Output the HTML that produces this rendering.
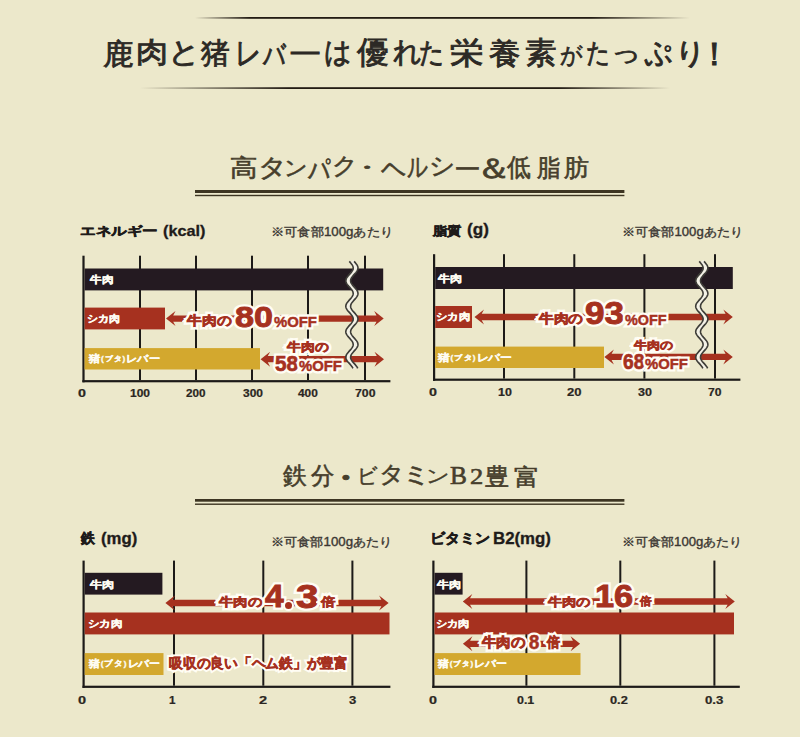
<!DOCTYPE html>
<html><head><meta charset="utf-8"><style>
html,body{margin:0;padding:0}
body{width:800px;height:737px;overflow:hidden;position:relative;background:#ece8cb}
svg{position:absolute;left:0;top:0}
.t{position:absolute;line-height:1;white-space:nowrap;transform-origin:0 0}
.o{-webkit-text-stroke:4px #fffdf4;paint-order:stroke fill}
</style></head><body>
<svg width="800" height="737" viewBox="0 0 800 737"><defs>
<linearGradient id="g1" x1="195" x2="690" y1="0" y2="0" gradientUnits="userSpaceOnUse">
<stop offset="0" stop-color="#231c14" stop-opacity="0"/><stop offset="0.11" stop-color="#231c14" stop-opacity="1"/>
<stop offset="0.8" stop-color="#231c14" stop-opacity="1"/><stop offset="1" stop-color="#231c14" stop-opacity="0"/></linearGradient>
<linearGradient id="g2" x1="140" x2="670" y1="0" y2="0" gradientUnits="userSpaceOnUse">
<stop offset="0" stop-color="#231c14" stop-opacity="0"/><stop offset="0.28" stop-color="#231c14" stop-opacity="1"/>
<stop offset="0.79" stop-color="#231c14" stop-opacity="1"/><stop offset="1" stop-color="#231c14" stop-opacity="0"/></linearGradient>
</defs><rect x="195" y="499" width="429.4" height="2.7" fill="#3d3522"/><rect x="195" y="503.5" width="429.4" height="1.4" fill="#3d3522"/><rect x="195" y="190" width="429.4" height="3" fill="#3d3522"/><rect x="195" y="194.8" width="429.4" height="1.4" fill="#3d3522"/><rect x="140" y="87.2" width="530" height="1.8" fill="url(#g2)"/><rect x="195" y="17" width="495" height="1.8" fill="url(#g1)"/><rect x="139" y="255.7" width="2" height="124.4" fill="#1c1a18"/><rect x="195" y="255.7" width="2" height="124.4" fill="#1c1a18"/><rect x="251" y="255.7" width="2" height="124.4" fill="#1c1a18"/><rect x="307" y="255.7" width="2" height="124.4" fill="#1c1a18"/><rect x="364" y="255.7" width="2" height="124.4" fill="#1c1a18"/><rect x="82.4" y="255.7" width="2.2" height="126.6" fill="#1c1a18"/><rect x="82.4" y="380.1" width="308" height="2.2" fill="#1c1a18"/><rect x="84.6" y="268.5" width="298.6" height="21.9" fill="#241a21"/><rect x="84.6" y="307.6" width="80.4" height="21.8" fill="#a6311f"/><rect x="84.6" y="348.1" width="175.4" height="21.4" fill="#d3a82e"/><rect x="503" y="254.2" width="2" height="124.4" fill="#1c1a18"/><rect x="573.3" y="254.2" width="2" height="124.4" fill="#1c1a18"/><rect x="643.4" y="254.2" width="2" height="124.4" fill="#1c1a18"/><rect x="714" y="254.2" width="2" height="124.4" fill="#1c1a18"/><rect x="433" y="254.2" width="2.2" height="126.6" fill="#1c1a18"/><rect x="433" y="378.6" width="307.4" height="2.2" fill="#1c1a18"/><rect x="435.2" y="267" width="297.6" height="22" fill="#241a21"/><rect x="435.2" y="306" width="36.8" height="22" fill="#a6311f"/><rect x="435.2" y="346.6" width="168.8" height="21.4" fill="#d3a82e"/><rect x="173" y="560.6" width="2" height="125.1" fill="#1c1a18"/><rect x="262.3" y="560.6" width="2" height="125.1" fill="#1c1a18"/><rect x="351.4" y="560.6" width="2" height="125.1" fill="#1c1a18"/><rect x="82.5" y="560.6" width="2.2" height="127.3" fill="#1c1a18"/><rect x="82.5" y="685.7" width="307.9" height="2.2" fill="#1c1a18"/><rect x="84.7" y="572.8" width="77.7" height="21.8" fill="#241a21"/><rect x="84.7" y="612.5" width="304.8" height="21.9" fill="#a6311f"/><rect x="84.7" y="653.1" width="78.8" height="21.9" fill="#d3a82e"/><rect x="525.4" y="560.6" width="2" height="125.1" fill="#1c1a18"/><rect x="619.3" y="560.6" width="2" height="125.1" fill="#1c1a18"/><rect x="713.4" y="560.6" width="2" height="125.1" fill="#1c1a18"/><rect x="432.3" y="560.6" width="2.2" height="127.3" fill="#1c1a18"/><rect x="432.3" y="685.7" width="307.5" height="2.2" fill="#1c1a18"/><rect x="434.5" y="572.8" width="28.1" height="21.8" fill="#241a21"/><rect x="434.5" y="612.5" width="299.5" height="21.9" fill="#a6311f"/><rect x="434.5" y="653.1" width="146" height="21.9" fill="#d3a82e"/><polygon fill="#a6311f" points="166,318.6 175.5,311.1 173.2,315.45 376.5,315.45 374.2,311.1 383.7,318.6 374.2,326.1 376.5,321.75 173.2,321.75 175.5,326.1"/><polygon fill="#a6311f" points="260.6,359.2 270.1,351.7 267.8,356.05 376.8,356.05 374.5,351.7 384,359.2 374.5,366.7 376.8,362.35 267.8,362.35 270.1,366.7"/><polygon fill="#a6311f" points="474.5,317 484,309.5 481.7,313.85 725.6,313.85 723.3,309.5 732.8,317 723.3,324.5 725.6,320.15 481.7,320.15 484,324.5"/><polygon fill="#a6311f" points="604.4,356.9 613.9,349.4 611.6,353.75 725.6,353.75 723.3,349.4 732.8,356.9 723.3,364.4 725.6,360.05 611.6,360.05 613.9,364.4"/><polygon fill="#a6311f" points="165.4,603 174.9,595.5 172.6,599.85 381.4,599.85 379.1,595.5 388.6,603 379.1,610.5 381.4,606.15 172.6,606.15 174.9,610.5"/><polygon fill="#a6311f" points="462.8,601.5 472.3,594 470,598.35 727.6,598.35 725.3,594 734.8,601.5 725.3,609 727.6,604.65 470,604.65 472.3,609"/><polygon fill="#a6311f" points="462.9,643.8 472.4,636.3 470.1,640.65 572.9,640.65 570.6,636.3 580.1,643.8 570.6,651.3 572.9,646.95 470.1,646.95 472.4,651.3"/><path d="M351.69,261.4 L352.6,262.4 L353.47,263.4 L354.24,264.4 L354.87,265.4 L355.32,266.4 L355.56,267.4 L355.58,268.4 L355.38,269.4 L354.97,270.4 L354.38,271.4 L353.63,272.4 L352.78,273.4 L351.88,274.4 L350.98,275.4 L350.13,276.4 L349.39,277.4 L348.8,278.4 L348.4,279.4 L348.21,280.4 L348.25,281.4 L348.5,282.4 L348.96,283.4 L349.6,284.4 L350.37,285.4 L351.24,286.4 L352.15,287.4 L353.04,288.4 L353.87,289.4 L354.57,290.4 L355.12,291.4 L355.46,292.4 L355.6,293.4 L355.51,294.4 L355.2,295.4 L354.69,296.4 L354.02,297.4 L353.22,298.4 L352.33,299.4 L351.42,300.4 L350.54,301.4 L349.74,302.4 L349.08,303.4 L348.58,304.4 L348.28,305.4 L348.2,306.4 L348.35,307.4 L348.71,308.4 L349.26,309.4 L349.97,310.4 L350.8,311.4 L351.69,312.4 L352.6,313.4 L353.47,314.4 L354.24,315.4 L354.87,316.4 L355.32,317.4 L355.56,318.4 L355.58,319.4 L355.38,320.4 L354.97,321.4 L354.38,322.4 L353.63,323.4 L352.78,324.4 L351.88,325.4 L350.98,326.4 L350.13,327.4 L349.39,328.4 L348.8,329.4 L348.4,330.4 L348.21,331.4 L348.25,332.4 L348.5,333.4 L348.96,334.4 L349.6,335.4 L350.37,336.4 L351.24,337.4 L352.15,338.4 L353.04,339.4 L353.87,340.4 L354.57,341.4 L355.12,342.4 L355.46,343.4 L355.6,344.4 L355.51,345.4 L355.2,346.4 L354.69,347.4 L354.02,348.4 L353.22,349.4 L352.33,350.4 L351.42,351.4 L350.54,352.4 L349.74,353.4 L349.08,354.4 L348.58,355.4 L348.28,356.4 L348.2,357.4 L348.35,358.4 L348.71,359.4 L349.26,360.4 L349.97,361.4 L350.8,362.4 L351.69,363.4 L352.6,364.4 L353.47,365.4 L354.24,366.4 L354.87,367.4 L355.32,368.4" stroke="#f3f1e6" stroke-width="4" fill="none"/><path d="M349.29,261.4 L350.2,262.4 L351.07,263.4 L351.84,264.4 L352.47,265.4 L352.92,266.4 L353.16,267.4 L353.18,268.4 L352.98,269.4 L352.57,270.4 L351.98,271.4 L351.23,272.4 L350.38,273.4 L349.48,274.4 L348.58,275.4 L347.73,276.4 L346.99,277.4 L346.4,278.4 L346,279.4 L345.81,280.4 L345.85,281.4 L346.1,282.4 L346.56,283.4 L347.2,284.4 L347.97,285.4 L348.84,286.4 L349.75,287.4 L350.64,288.4 L351.47,289.4 L352.17,290.4 L352.72,291.4 L353.06,292.4 L353.2,293.4 L353.11,294.4 L352.8,295.4 L352.29,296.4 L351.62,297.4 L350.82,298.4 L349.93,299.4 L349.02,300.4 L348.14,301.4 L347.34,302.4 L346.68,303.4 L346.18,304.4 L345.88,305.4 L345.8,306.4 L345.95,307.4 L346.31,308.4 L346.86,309.4 L347.57,310.4 L348.4,311.4 L349.29,312.4 L350.2,313.4 L351.07,314.4 L351.84,315.4 L352.47,316.4 L352.92,317.4 L353.16,318.4 L353.18,319.4 L352.98,320.4 L352.57,321.4 L351.98,322.4 L351.23,323.4 L350.38,324.4 L349.48,325.4 L348.58,326.4 L347.73,327.4 L346.99,328.4 L346.4,329.4 L346,330.4 L345.81,331.4 L345.85,332.4 L346.1,333.4 L346.56,334.4 L347.2,335.4 L347.97,336.4 L348.84,337.4 L349.75,338.4 L350.64,339.4 L351.47,340.4 L352.17,341.4 L352.72,342.4 L353.06,343.4 L353.2,344.4 L353.11,345.4 L352.8,346.4 L352.29,347.4 L351.62,348.4 L350.82,349.4 L349.93,350.4 L349.02,351.4 L348.14,352.4 L347.34,353.4 L346.68,354.4 L346.18,355.4 L345.88,356.4 L345.8,357.4 L345.95,358.4 L346.31,359.4 L346.86,360.4 L347.57,361.4 L348.4,362.4 L349.29,363.4 L350.2,364.4 L351.07,365.4 L351.84,366.4 L352.47,367.4 L352.92,368.4" stroke="#3e3d38" stroke-width="1.6" fill="none"/><path d="M354.09,261.4 L355,262.4 L355.87,263.4 L356.64,264.4 L357.27,265.4 L357.72,266.4 L357.96,267.4 L357.98,268.4 L357.78,269.4 L357.37,270.4 L356.78,271.4 L356.03,272.4 L355.18,273.4 L354.28,274.4 L353.38,275.4 L352.53,276.4 L351.79,277.4 L351.2,278.4 L350.8,279.4 L350.61,280.4 L350.65,281.4 L350.9,282.4 L351.36,283.4 L352,284.4 L352.77,285.4 L353.64,286.4 L354.55,287.4 L355.44,288.4 L356.27,289.4 L356.97,290.4 L357.52,291.4 L357.86,292.4 L358,293.4 L357.91,294.4 L357.6,295.4 L357.09,296.4 L356.42,297.4 L355.62,298.4 L354.73,299.4 L353.82,300.4 L352.94,301.4 L352.14,302.4 L351.48,303.4 L350.98,304.4 L350.68,305.4 L350.6,306.4 L350.75,307.4 L351.11,308.4 L351.66,309.4 L352.37,310.4 L353.2,311.4 L354.09,312.4 L355,313.4 L355.87,314.4 L356.64,315.4 L357.27,316.4 L357.72,317.4 L357.96,318.4 L357.98,319.4 L357.78,320.4 L357.37,321.4 L356.78,322.4 L356.03,323.4 L355.18,324.4 L354.28,325.4 L353.38,326.4 L352.53,327.4 L351.79,328.4 L351.2,329.4 L350.8,330.4 L350.61,331.4 L350.65,332.4 L350.9,333.4 L351.36,334.4 L352,335.4 L352.77,336.4 L353.64,337.4 L354.55,338.4 L355.44,339.4 L356.27,340.4 L356.97,341.4 L357.52,342.4 L357.86,343.4 L358,344.4 L357.91,345.4 L357.6,346.4 L357.09,347.4 L356.42,348.4 L355.62,349.4 L354.73,350.4 L353.82,351.4 L352.94,352.4 L352.14,353.4 L351.48,354.4 L350.98,355.4 L350.68,356.4 L350.6,357.4 L350.75,358.4 L351.11,359.4 L351.66,360.4 L352.37,361.4 L353.2,362.4 L354.09,363.4 L355,364.4 L355.87,365.4 L356.64,366.4 L357.27,367.4 L357.72,368.4" stroke="#3e3d38" stroke-width="1.6" fill="none"/><path d="M701.59,261.4 L702.5,262.4 L703.37,263.4 L704.14,264.4 L704.77,265.4 L705.22,266.4 L705.46,267.4 L705.48,268.4 L705.28,269.4 L704.87,270.4 L704.28,271.4 L703.53,272.4 L702.68,273.4 L701.78,274.4 L700.88,275.4 L700.03,276.4 L699.29,277.4 L698.7,278.4 L698.3,279.4 L698.11,280.4 L698.15,281.4 L698.4,282.4 L698.86,283.4 L699.5,284.4 L700.27,285.4 L701.14,286.4 L702.05,287.4 L702.94,288.4 L703.77,289.4 L704.47,290.4 L705.02,291.4 L705.36,292.4 L705.5,293.4 L705.41,294.4 L705.1,295.4 L704.59,296.4 L703.92,297.4 L703.12,298.4 L702.23,299.4 L701.32,300.4 L700.44,301.4 L699.64,302.4 L698.98,303.4 L698.48,304.4 L698.18,305.4 L698.1,306.4 L698.25,307.4 L698.61,308.4 L699.16,309.4 L699.87,310.4 L700.7,311.4 L701.59,312.4 L702.5,313.4 L703.37,314.4 L704.14,315.4 L704.77,316.4 L705.22,317.4 L705.46,318.4 L705.48,319.4 L705.28,320.4 L704.87,321.4 L704.28,322.4 L703.53,323.4 L702.68,324.4 L701.78,325.4 L700.88,326.4 L700.03,327.4 L699.29,328.4 L698.7,329.4 L698.3,330.4 L698.11,331.4 L698.15,332.4 L698.4,333.4 L698.86,334.4 L699.5,335.4 L700.27,336.4 L701.14,337.4 L702.05,338.4 L702.94,339.4 L703.77,340.4 L704.47,341.4 L705.02,342.4 L705.36,343.4 L705.5,344.4 L705.41,345.4 L705.1,346.4 L704.59,347.4 L703.92,348.4 L703.12,349.4 L702.23,350.4 L701.32,351.4 L700.44,352.4 L699.64,353.4 L698.98,354.4 L698.48,355.4 L698.18,356.4 L698.1,357.4 L698.25,358.4 L698.61,359.4 L699.16,360.4 L699.87,361.4 L700.7,362.4 L701.59,363.4 L702.5,364.4 L703.37,365.4 L704.14,366.4 L704.77,367.4 L705.22,368.4" stroke="#f3f1e6" stroke-width="4" fill="none"/><path d="M699.19,261.4 L700.1,262.4 L700.97,263.4 L701.74,264.4 L702.37,265.4 L702.82,266.4 L703.06,267.4 L703.08,268.4 L702.88,269.4 L702.47,270.4 L701.88,271.4 L701.13,272.4 L700.28,273.4 L699.38,274.4 L698.48,275.4 L697.63,276.4 L696.89,277.4 L696.3,278.4 L695.9,279.4 L695.71,280.4 L695.75,281.4 L696,282.4 L696.46,283.4 L697.1,284.4 L697.87,285.4 L698.74,286.4 L699.65,287.4 L700.54,288.4 L701.37,289.4 L702.07,290.4 L702.62,291.4 L702.96,292.4 L703.1,293.4 L703.01,294.4 L702.7,295.4 L702.19,296.4 L701.52,297.4 L700.72,298.4 L699.83,299.4 L698.92,300.4 L698.04,301.4 L697.24,302.4 L696.58,303.4 L696.08,304.4 L695.78,305.4 L695.7,306.4 L695.85,307.4 L696.21,308.4 L696.76,309.4 L697.47,310.4 L698.3,311.4 L699.19,312.4 L700.1,313.4 L700.97,314.4 L701.74,315.4 L702.37,316.4 L702.82,317.4 L703.06,318.4 L703.08,319.4 L702.88,320.4 L702.47,321.4 L701.88,322.4 L701.13,323.4 L700.28,324.4 L699.38,325.4 L698.48,326.4 L697.63,327.4 L696.89,328.4 L696.3,329.4 L695.9,330.4 L695.71,331.4 L695.75,332.4 L696,333.4 L696.46,334.4 L697.1,335.4 L697.87,336.4 L698.74,337.4 L699.65,338.4 L700.54,339.4 L701.37,340.4 L702.07,341.4 L702.62,342.4 L702.96,343.4 L703.1,344.4 L703.01,345.4 L702.7,346.4 L702.19,347.4 L701.52,348.4 L700.72,349.4 L699.83,350.4 L698.92,351.4 L698.04,352.4 L697.24,353.4 L696.58,354.4 L696.08,355.4 L695.78,356.4 L695.7,357.4 L695.85,358.4 L696.21,359.4 L696.76,360.4 L697.47,361.4 L698.3,362.4 L699.19,363.4 L700.1,364.4 L700.97,365.4 L701.74,366.4 L702.37,367.4 L702.82,368.4" stroke="#3e3d38" stroke-width="1.6" fill="none"/><path d="M703.99,261.4 L704.9,262.4 L705.77,263.4 L706.54,264.4 L707.17,265.4 L707.62,266.4 L707.86,267.4 L707.88,268.4 L707.68,269.4 L707.27,270.4 L706.68,271.4 L705.93,272.4 L705.08,273.4 L704.18,274.4 L703.28,275.4 L702.43,276.4 L701.69,277.4 L701.1,278.4 L700.7,279.4 L700.51,280.4 L700.55,281.4 L700.8,282.4 L701.26,283.4 L701.9,284.4 L702.67,285.4 L703.54,286.4 L704.45,287.4 L705.34,288.4 L706.17,289.4 L706.87,290.4 L707.42,291.4 L707.76,292.4 L707.9,293.4 L707.81,294.4 L707.5,295.4 L706.99,296.4 L706.32,297.4 L705.52,298.4 L704.63,299.4 L703.72,300.4 L702.84,301.4 L702.04,302.4 L701.38,303.4 L700.88,304.4 L700.58,305.4 L700.5,306.4 L700.65,307.4 L701.01,308.4 L701.56,309.4 L702.27,310.4 L703.1,311.4 L703.99,312.4 L704.9,313.4 L705.77,314.4 L706.54,315.4 L707.17,316.4 L707.62,317.4 L707.86,318.4 L707.88,319.4 L707.68,320.4 L707.27,321.4 L706.68,322.4 L705.93,323.4 L705.08,324.4 L704.18,325.4 L703.28,326.4 L702.43,327.4 L701.69,328.4 L701.1,329.4 L700.7,330.4 L700.51,331.4 L700.55,332.4 L700.8,333.4 L701.26,334.4 L701.9,335.4 L702.67,336.4 L703.54,337.4 L704.45,338.4 L705.34,339.4 L706.17,340.4 L706.87,341.4 L707.42,342.4 L707.76,343.4 L707.9,344.4 L707.81,345.4 L707.5,346.4 L706.99,347.4 L706.32,348.4 L705.52,349.4 L704.63,350.4 L703.72,351.4 L702.84,352.4 L702.04,353.4 L701.38,354.4 L700.88,355.4 L700.58,356.4 L700.5,357.4 L700.65,358.4 L701.01,359.4 L701.56,360.4 L702.27,361.4 L703.1,362.4 L703.99,363.4 L704.9,364.4 L705.77,365.4 L706.54,366.4 L707.17,367.4 L707.62,368.4" stroke="#3e3d38" stroke-width="1.6" fill="none"/></svg>
<div class="t" style="left:103px;top:39.87px;font-size:29px;font-family:'Liberation Serif', serif;font-weight:normal;transform:scaleX(1.045);color:#2c2925;-webkit-text-stroke:0.03em #2c2925">鹿</div><div class="t" style="left:136.05px;top:38.41px;font-size:29.47px;font-family:'Liberation Serif', serif;font-weight:normal;transform:scaleX(1.105);color:#2c2925;-webkit-text-stroke:0.03em #2c2925">肉</div><div class="t" style="left:167.83px;top:38.47px;font-size:29.41px;font-family:'Liberation Serif', serif;font-weight:normal;transform:scaleX(1.098);color:#2c2925;-webkit-text-stroke:0.03em #2c2925">と</div><div class="t" style="left:200.58px;top:39.29px;font-size:29.29px;font-family:'Liberation Serif', serif;font-weight:normal;transform:scaleX(0.990);color:#2c2925;-webkit-text-stroke:0.03em #2c2925">猪</div><div class="t" style="left:234.67px;top:37.58px;font-size:31.58px;font-family:'Liberation Serif', serif;font-weight:normal;transform:scaleX(0.812);color:#2c2925;-webkit-text-stroke:0.03em #2c2925">レ</div><div class="t" style="left:262.67px;top:41.32px;font-size:29.73px;font-family:'Liberation Serif', serif;font-weight:normal;transform:scaleX(0.747);color:#2c2925;-webkit-text-stroke:0.03em #2c2925">バ</div><div class="t" style="left:287.56px;top:43.86px;font-size:21.43px;font-family:'Liberation Serif', serif;font-weight:normal;transform:scaleX(1.628);color:#2c2925;-webkit-text-stroke:0.03em #2c2925">ー</div><div class="t" style="left:324.36px;top:37.79px;font-size:29.21px;font-family:'Liberation Serif', serif;font-weight:normal;transform:scaleX(0.934);color:#2c2925;-webkit-text-stroke:0.03em #2c2925">は</div><div class="t" style="left:356.64px;top:37.38px;font-size:31.25px;font-family:'Liberation Serif', serif;font-weight:normal;transform:scaleX(1.024);color:#2c2925;-webkit-text-stroke:0.03em #2c2925">優</div><div class="t" style="left:392.72px;top:39px;font-size:28.57px;font-family:'Liberation Serif', serif;font-weight:normal;transform:scaleX(0.964);color:#2c2925;-webkit-text-stroke:0.03em #2c2925">れ</div><div class="t" style="left:419px;top:39.02px;font-size:28.26px;font-family:'Liberation Serif', serif;font-weight:normal;transform:scaleX(0.885);color:#2c2925;-webkit-text-stroke:0.03em #2c2925">た</div><div class="t" style="left:450.33px;top:38.3px;font-size:30px;font-family:'Liberation Serif', serif;font-weight:normal;transform:scaleX(1.111);color:#2c2925;-webkit-text-stroke:0.03em #2c2925">栄</div><div class="t" style="left:489px;top:38.61px;font-size:30.3px;font-family:'Liberation Serif', serif;font-weight:normal;transform:scaleX(1.044);color:#2c2925;-webkit-text-stroke:0.03em #2c2925">養</div><div class="t" style="left:525.38px;top:38.59px;font-size:29.7px;font-family:'Liberation Serif', serif;font-weight:normal;transform:scaleX(1.052);color:#2c2925;-webkit-text-stroke:0.03em #2c2925">素</div><div class="t" style="left:559.77px;top:43.83px;font-size:23.4px;font-family:'Liberation Serif', serif;font-weight:normal;transform:scaleX(0.963);color:#2c2925;-webkit-text-stroke:0.03em #2c2925">が</div><div class="t" style="left:586.05px;top:40.1px;font-size:27.17px;font-family:'Liberation Serif', serif;font-weight:normal;transform:scaleX(0.878);color:#2c2925;-webkit-text-stroke:0.03em #2c2925">た</div><div class="t" style="left:611.48px;top:41.55px;font-size:23.64px;font-family:'Liberation Serif', serif;font-weight:normal;transform:scaleX(1.241);color:#2c2925;-webkit-text-stroke:0.03em #2c2925">っ</div><div class="t" style="left:643.71px;top:38.04px;font-size:30.49px;font-family:'Liberation Serif', serif;font-weight:normal;transform:scaleX(0.937);color:#2c2925;-webkit-text-stroke:0.03em #2c2925">ぷ</div><div class="t" style="left:674.93px;top:38.68px;font-size:29.03px;font-family:'Liberation Serif', serif;font-weight:normal;transform:scaleX(1.046);color:#2c2925;-webkit-text-stroke:0.03em #2c2925">り</div><div class="t" style="left:698px;top:37.79px;font-size:32.39px;font-family:'Liberation Serif', serif;font-weight:normal;transform:scaleX(1.029);color:#2c2925;-webkit-text-stroke:0.03em #2c2925">！</div><div class="t" style="left:230.18px;top:156.95px;font-size:23.76px;font-family:'Liberation Serif', serif;font-weight:normal;transform:scaleX(1.144);color:#463e2c;-webkit-text-stroke:0.025em #463e2c">高</div><div class="t" style="left:258.16px;top:155.25px;font-size:25px;font-family:'Liberation Serif', serif;font-weight:normal;transform:scaleX(1.135);color:#463e2c;-webkit-text-stroke:0.025em #463e2c">タ</div><div class="t" style="left:283.71px;top:158.09px;font-size:20.78px;font-family:'Liberation Serif', serif;font-weight:normal;transform:scaleX(1.102);color:#463e2c;-webkit-text-stroke:0.025em #463e2c">ン</div><div class="t" style="left:307.66px;top:155.51px;font-size:27.7px;font-family:'Liberation Serif', serif;font-weight:normal;transform:scaleX(0.791);color:#463e2c;-webkit-text-stroke:0.025em #463e2c">パ</div><div class="t" style="left:332px;top:155.09px;font-size:23.89px;font-family:'Liberation Serif', serif;font-weight:normal;transform:scaleX(1.047);color:#463e2c;-webkit-text-stroke:0.025em #463e2c">ク</div><div class="t" style="left:350px;top:159.23px;font-size:18.89px;font-family:'Liberation Serif', serif;font-weight:normal;transform:scaleX(1.765);color:#463e2c;-webkit-text-stroke:0.025em #463e2c">・</div><div class="t" style="left:381.25px;top:155.84px;font-size:26.53px;font-family:'Liberation Serif', serif;font-weight:normal;transform:scaleX(0.923);color:#463e2c;-webkit-text-stroke:0.025em #463e2c">ヘ</div><div class="t" style="left:406.8px;top:153.95px;font-size:26.97px;font-family:'Liberation Serif', serif;font-weight:normal;transform:scaleX(0.760);color:#463e2c;-webkit-text-stroke:0.025em #463e2c">ル</div><div class="t" style="left:428.72px;top:154.91px;font-size:23.75px;font-family:'Liberation Serif', serif;font-weight:normal;transform:scaleX(1.065);color:#463e2c;-webkit-text-stroke:0.025em #463e2c">シ</div><div class="t" style="left:453.85px;top:158.8px;font-size:20px;font-family:'Liberation Serif', serif;font-weight:normal;transform:scaleX(1.345);color:#463e2c;-webkit-text-stroke:0.025em #463e2c">ー</div><div class="t" style="left:475.9px;top:154.63px;font-size:28.08px;font-family:'Liberation Serif', serif;font-weight:normal;transform:scaleX(1.264);color:#463e2c;-webkit-text-stroke:0.025em #463e2c">＆</div><div class="t" style="left:507.48px;top:155.24px;font-size:25.26px;font-family:'Liberation Serif', serif;font-weight:normal;transform:scaleX(0.950);color:#463e2c;-webkit-text-stroke:0.025em #463e2c">低</div><div class="t" style="left:537.24px;top:156px;font-size:24.49px;font-family:'Liberation Serif', serif;font-weight:normal;transform:scaleX(0.983);color:#463e2c;-webkit-text-stroke:0.025em #463e2c">脂</div><div class="t" style="left:564.25px;top:156.24px;font-size:24.24px;font-family:'Liberation Serif', serif;font-weight:normal;transform:scaleX(1.042);color:#463e2c;-webkit-text-stroke:0.025em #463e2c">肪</div><div class="t" style="left:283.24px;top:464.76px;font-size:23.7px;font-family:'Liberation Serif', serif;font-weight:normal;transform:scaleX(0.992);color:#463e2c;-webkit-text-stroke:0.025em #463e2c">鉄</div><div class="t" style="left:311.23px;top:464.76px;font-size:23.7px;font-family:'Liberation Serif', serif;font-weight:normal;transform:scaleX(0.963);color:#463e2c;-webkit-text-stroke:0.025em #463e2c">分</div><div class="t" style="left:325.67px;top:462.9px;font-size:30px;font-family:'Liberation Serif', serif;font-weight:normal;transform:scaleX(1.296);color:#463e2c;-webkit-text-stroke:0.025em #463e2c">・</div><div class="t" style="left:357.05px;top:466.32px;font-size:21.39px;font-family:'Liberation Serif', serif;font-weight:normal;transform:scaleX(0.960);color:#463e2c;-webkit-text-stroke:0.025em #463e2c">ビ</div><div class="t" style="left:379.28px;top:464.4px;font-size:22.83px;font-family:'Liberation Serif', serif;font-weight:normal;transform:scaleX(1.080);color:#463e2c;-webkit-text-stroke:0.025em #463e2c">タ</div><div class="t" style="left:402.32px;top:463.66px;font-size:23.77px;font-family:'Liberation Serif', serif;font-weight:normal;transform:scaleX(1.183);color:#463e2c;-webkit-text-stroke:0.025em #463e2c">ミ</div><div class="t" style="left:426.26px;top:467.45px;font-size:18.18px;font-family:'Liberation Serif', serif;font-weight:normal;transform:scaleX(1.286);color:#463e2c;-webkit-text-stroke:0.025em #463e2c">ン</div><div class="t" style="left:449.99px;top:464.38px;font-size:24.26px;font-family:'Liberation Serif', serif;font-weight:normal;transform:scaleX(1.047);color:#463e2c;-webkit-text-stroke:0.025em #463e2c">B</div><div class="t" style="left:469.8px;top:464.67px;font-size:23.91px;font-family:'Liberation Serif', serif;font-weight:normal;transform:scaleX(1.109);color:#463e2c;-webkit-text-stroke:0.025em #463e2c">2</div><div class="t" style="left:485.26px;top:465.24px;font-size:24.46px;font-family:'Liberation Serif', serif;font-weight:normal;color:#463e2c;-webkit-text-stroke:0.025em #463e2c">豊</div><div class="t" style="left:513.88px;top:465.7px;font-size:23.21px;font-family:'Liberation Serif', serif;font-weight:normal;transform:scaleX(1.119);color:#463e2c;-webkit-text-stroke:0.025em #463e2c">富</div><div class="t" style="left:271.27px;top:226.12px;font-size:12.04px;font-family:'Liberation Sans', sans-serif;font-weight:normal;transform:scaleX(1.103);color:#3b3733;-webkit-text-stroke:0.03em #3b3733">※可食部100gあたり</div><div class="t" style="left:622.29px;top:226.12px;font-size:12.04px;font-family:'Liberation Sans', sans-serif;font-weight:normal;transform:scaleX(1.093);color:#3b3733;-webkit-text-stroke:0.03em #3b3733">※可食部100gあたり</div><div class="t" style="left:271.27px;top:535.62px;font-size:12.13px;font-family:'Liberation Sans', sans-serif;font-weight:normal;transform:scaleX(1.094);color:#3b3733;-webkit-text-stroke:0.03em #3b3733">※可食部100gあたり</div><div class="t" style="left:622.29px;top:535.62px;font-size:12.13px;font-family:'Liberation Sans', sans-serif;font-weight:normal;transform:scaleX(1.085);color:#3b3733;-webkit-text-stroke:0.03em #3b3733">※可食部100gあたり</div><div class="t" style="left:79.79px;top:224.72px;font-size:11.73px;font-family:'Liberation Sans', sans-serif;font-weight:bold;transform:scaleX(1.295);color:#1e1b1a;-webkit-text-stroke:0.045em #1e1b1a">エネルギー</div><div class="t" style="left:162.95px;top:222.9px;font-size:15.42px;font-family:'Liberation Sans', sans-serif;font-weight:bold;transform:scaleX(1.055);color:#1e1b1a;-webkit-text-stroke:0.02em #1e1b1a">(kcal)</div><div class="t" style="left:432.91px;top:224.71px;font-size:12.14px;font-family:'Liberation Sans', sans-serif;font-weight:bold;transform:scaleX(1.186);color:#1e1b1a;-webkit-text-stroke:0.045em #1e1b1a">脂質</div><div class="t" style="left:467.11px;top:222.35px;font-size:15.94px;font-family:'Liberation Sans', sans-serif;font-weight:bold;transform:scaleX(1.077);color:#1e1b1a;-webkit-text-stroke:0.02em #1e1b1a">(g)</div><div class="t" style="left:80.71px;top:532.1px;font-size:13.73px;font-family:'Liberation Sans', sans-serif;font-weight:bold;transform:scaleX(0.987);color:#1e1b1a;-webkit-text-stroke:0.045em #1e1b1a">鉄</div><div class="t" style="left:100.73px;top:530.85px;font-size:15.94px;font-family:'Liberation Sans', sans-serif;font-weight:bold;transform:scaleX(1.051);color:#1e1b1a;-webkit-text-stroke:0.02em #1e1b1a">(mg)</div><div class="t" style="left:429.71px;top:532.46px;font-size:13.59px;font-family:'Liberation Sans', sans-serif;font-weight:bold;transform:scaleX(1.074);color:#1e1b1a;-webkit-text-stroke:0.045em #1e1b1a">ビタミン</div><div class="t" style="left:492.74px;top:531.18px;font-size:16.56px;font-family:'Liberation Sans', sans-serif;font-weight:bold;transform:scaleX(1.017);color:#1e1b1a;-webkit-text-stroke:0.02em #1e1b1a">B2(mg)</div><div class="t" style="left:78.47px;top:387.27px;font-size:11.64px;font-family:'Liberation Sans', sans-serif;font-weight:bold;transform:scaleX(1.227);color:#2a2622;-webkit-text-stroke:0.02em #2a2622">0</div><div class="t" style="left:130px;top:387.27px;font-size:11.64px;font-family:'Liberation Sans', sans-serif;font-weight:bold;transform:scaleX(1.032);color:#2a2622;-webkit-text-stroke:0.02em #2a2622">100</div><div class="t" style="left:186.17px;top:387.27px;font-size:11.64px;font-family:'Liberation Sans', sans-serif;font-weight:bold;transform:scaleX(1.007);color:#2a2622;-webkit-text-stroke:0.02em #2a2622">200</div><div class="t" style="left:242.63px;top:387.27px;font-size:11.64px;font-family:'Liberation Sans', sans-serif;font-weight:bold;transform:scaleX(1.030);color:#2a2622;-webkit-text-stroke:0.02em #2a2622">300</div><div class="t" style="left:298.28px;top:387.27px;font-size:11.64px;font-family:'Liberation Sans', sans-serif;font-weight:bold;transform:scaleX(1.022);color:#2a2622;-webkit-text-stroke:0.02em #2a2622">400</div><div class="t" style="left:355.43px;top:387.27px;font-size:11.64px;font-family:'Liberation Sans', sans-serif;font-weight:bold;transform:scaleX(1.056);color:#2a2622;-webkit-text-stroke:0.02em #2a2622">700</div><div class="t" style="left:429.17px;top:386.35px;font-size:11.78px;font-family:'Liberation Sans', sans-serif;font-weight:bold;transform:scaleX(1.213);color:#2a2622;-webkit-text-stroke:0.02em #2a2622">0</div><div class="t" style="left:497.98px;top:386.35px;font-size:11.78px;font-family:'Liberation Sans', sans-serif;font-weight:bold;transform:scaleX(1.055);color:#2a2622;-webkit-text-stroke:0.02em #2a2622">10</div><div class="t" style="left:567.44px;top:386.35px;font-size:11.78px;font-family:'Liberation Sans', sans-serif;font-weight:bold;transform:scaleX(1.105);color:#2a2622;-webkit-text-stroke:0.02em #2a2622">20</div><div class="t" style="left:637.67px;top:386.35px;font-size:11.78px;font-family:'Liberation Sans', sans-serif;font-weight:bold;transform:scaleX(1.063);color:#2a2622;-webkit-text-stroke:0.02em #2a2622">30</div><div class="t" style="left:708.24px;top:386.35px;font-size:11.78px;font-family:'Liberation Sans', sans-serif;font-weight:bold;transform:scaleX(1.027);color:#2a2622;-webkit-text-stroke:0.02em #2a2622">70</div><div class="t" style="left:78.47px;top:695.2px;font-size:10.68px;font-family:'Liberation Sans', sans-serif;font-weight:bold;transform:scaleX(1.356);color:#2a2622;-webkit-text-stroke:0.02em #2a2622">0</div><div class="t" style="left:169.32px;top:695.05px;font-size:10.99px;font-family:'Liberation Sans', sans-serif;font-weight:bold;transform:scaleX(1.059);color:#2a2622;-webkit-text-stroke:0.02em #2a2622">1</div><div class="t" style="left:259.46px;top:695.18px;font-size:10.83px;font-family:'Liberation Sans', sans-serif;font-weight:bold;transform:scaleX(1.348);color:#2a2622;-webkit-text-stroke:0.02em #2a2622">2</div><div class="t" style="left:348.87px;top:695.2px;font-size:10.68px;font-family:'Liberation Sans', sans-serif;font-weight:bold;transform:scaleX(1.224);color:#2a2622;-webkit-text-stroke:0.02em #2a2622">3</div><div class="t" style="left:429.17px;top:695.2px;font-size:10.68px;font-family:'Liberation Sans', sans-serif;font-weight:bold;transform:scaleX(1.337);color:#2a2622;-webkit-text-stroke:0.02em #2a2622">0</div><div class="t" style="left:517.33px;top:695.2px;font-size:10.68px;font-family:'Liberation Sans', sans-serif;font-weight:bold;transform:scaleX(1.159);color:#2a2622;-webkit-text-stroke:0.02em #2a2622">0.1</div><div class="t" style="left:610.42px;top:695.2px;font-size:10.68px;font-family:'Liberation Sans', sans-serif;font-weight:bold;transform:scaleX(1.196);color:#2a2622;-webkit-text-stroke:0.02em #2a2622">0.2</div><div class="t" style="left:705px;top:695.2px;font-size:10.68px;font-family:'Liberation Sans', sans-serif;font-weight:bold;transform:scaleX(1.238);color:#2a2622;-webkit-text-stroke:0.02em #2a2622">0.3</div><div class="t" style="left:89.63px;top:274.9px;font-size:10px;font-family:'Liberation Sans', sans-serif;font-weight:bold;transform:scaleX(1.159);color:#fdfbf2;-webkit-text-stroke:0.035em #fdfbf2">牛肉</div><div class="t" style="left:87.12px;top:313.59px;font-size:10.3px;font-family:'Liberation Sans', sans-serif;font-weight:bold;transform:scaleX(1.094);color:#fdfbf2;-webkit-text-stroke:0.035em #fdfbf2">シカ肉</div><div class="t" style="left:89.05px;top:353.9px;font-size:9.9px;font-family:'Liberation Sans', sans-serif;font-weight:bold;transform:scaleX(1.121);color:#fdfbf2;-webkit-text-stroke:0.035em #fdfbf2">猪<span style="font-size:0.74em;vertical-align:0.14em;letter-spacing:0.12em;margin-left:0.1em">(ブタ)</span>レバー</div><div class="t" style="left:438.04px;top:274.1px;font-size:10px;font-family:'Liberation Sans', sans-serif;font-weight:bold;transform:scaleX(1.200);color:#fdfbf2;-webkit-text-stroke:0.035em #fdfbf2">牛肉</div><div class="t" style="left:436.31px;top:312.1px;font-size:10.2px;font-family:'Liberation Sans', sans-serif;font-weight:bold;transform:scaleX(1.132);color:#fdfbf2;-webkit-text-stroke:0.035em #fdfbf2">シカ肉</div><div class="t" style="left:438.36px;top:352.9px;font-size:9.51px;font-family:'Liberation Sans', sans-serif;font-weight:bold;transform:scaleX(1.178);color:#fdfbf2;-webkit-text-stroke:0.035em #fdfbf2">猪<span style="font-size:0.74em;vertical-align:0.14em;letter-spacing:0.12em;margin-left:0.1em">(ブタ)</span>レバー</div><div class="t" style="left:89.63px;top:579.9px;font-size:9.61px;font-family:'Liberation Sans', sans-serif;font-weight:bold;transform:scaleX(1.206);color:#fdfbf2;-webkit-text-stroke:0.035em #fdfbf2">牛肉</div><div class="t" style="left:87.93px;top:619.4px;font-size:9.8px;font-family:'Liberation Sans', sans-serif;font-weight:bold;transform:scaleX(1.147);color:#fdfbf2;-webkit-text-stroke:0.035em #fdfbf2">シカ肉</div><div class="t" style="left:89.16px;top:658.7px;font-size:10.29px;font-family:'Liberation Sans', sans-serif;font-weight:bold;transform:scaleX(1.087);color:#fdfbf2;-webkit-text-stroke:0.035em #fdfbf2">猪<span style="font-size:0.74em;vertical-align:0.14em;letter-spacing:0.12em;margin-left:0.1em">(ブタ)</span>レバー</div><div class="t" style="left:437.23px;top:579.9px;font-size:9.61px;font-family:'Liberation Sans', sans-serif;font-weight:bold;transform:scaleX(1.206);color:#fdfbf2;-webkit-text-stroke:0.035em #fdfbf2">牛肉</div><div class="t" style="left:436.34px;top:619.4px;font-size:9.8px;font-family:'Liberation Sans', sans-serif;font-weight:bold;transform:scaleX(1.122);color:#fdfbf2;-webkit-text-stroke:0.035em #fdfbf2">シカ肉</div><div class="t" style="left:437.55px;top:658.7px;font-size:10.1px;font-family:'Liberation Sans', sans-serif;font-weight:bold;transform:scaleX(1.087);color:#fdfbf2;-webkit-text-stroke:0.035em #fdfbf2">猪<span style="font-size:0.74em;vertical-align:0.14em;letter-spacing:0.12em;margin-left:0.1em">(ブタ)</span>レバー</div><div class="t" style="left:187.43px;top:315.25px;font-size:12.5px;font-family:'Liberation Sans', sans-serif;font-weight:bold;transform:scaleX(1.135);color:#fffdf4;-webkit-text-stroke:0.418em #fffdf4">牛肉の</div><div class="t" style="left:187.43px;top:315.25px;font-size:12.5px;font-family:'Liberation Sans', sans-serif;font-weight:bold;transform:scaleX(1.135);color:#a6311f;-webkit-text-stroke:0.05em #a6311f">牛肉の</div><div class="t" style="left:234.92px;top:302.83px;font-size:29.04px;font-family:'Liberation Sans', sans-serif;font-weight:bold;transform:scaleX(1.179);color:#fffdf4;-webkit-text-stroke:0.188em #fffdf4">80</div><div class="t" style="left:234.92px;top:302.83px;font-size:29.04px;font-family:'Liberation Sans', sans-serif;font-weight:bold;transform:scaleX(1.179);color:#a6311f;-webkit-text-stroke:0.03em #a6311f">80</div><div class="t" style="left:274.25px;top:314.09px;font-size:15.41px;font-family:'Liberation Sans', sans-serif;font-weight:bold;transform:scaleX(0.964);color:#fffdf4;-webkit-text-stroke:0.328em #fffdf4">%OFF</div><div class="t" style="left:274.25px;top:314.09px;font-size:15.41px;font-family:'Liberation Sans', sans-serif;font-weight:bold;transform:scaleX(0.964);color:#a6311f;-webkit-text-stroke:0.03em #a6311f">%OFF</div><div class="t" style="left:287.31px;top:341.49px;font-size:12.02px;font-family:'Liberation Sans', sans-serif;font-weight:bold;transform:scaleX(1.149);color:#fffdf4;-webkit-text-stroke:0.433em #fffdf4">牛肉の</div><div class="t" style="left:287.31px;top:341.49px;font-size:12.02px;font-family:'Liberation Sans', sans-serif;font-weight:bold;transform:scaleX(1.149);color:#a6311f;-webkit-text-stroke:0.05em #a6311f">牛肉の</div><div class="t" style="left:275.19px;top:353.91px;font-size:21.37px;font-family:'Liberation Sans', sans-serif;font-weight:bold;transform:scaleX(0.971);color:#fffdf4;-webkit-text-stroke:0.245em #fffdf4">58</div><div class="t" style="left:275.19px;top:353.91px;font-size:21.37px;font-family:'Liberation Sans', sans-serif;font-weight:bold;transform:scaleX(0.971);color:#a6311f;-webkit-text-stroke:0.03em #a6311f">58</div><div class="t" style="left:299.25px;top:358.43px;font-size:15.48px;font-family:'Liberation Sans', sans-serif;font-weight:bold;transform:scaleX(0.960);color:#fffdf4;-webkit-text-stroke:0.327em #fffdf4">%OFF</div><div class="t" style="left:299.25px;top:358.43px;font-size:15.48px;font-family:'Liberation Sans', sans-serif;font-weight:bold;transform:scaleX(0.960);color:#a6311f;-webkit-text-stroke:0.03em #a6311f">%OFF</div><div class="t" style="left:538.83px;top:313.25px;font-size:12.6px;font-family:'Liberation Sans', sans-serif;font-weight:bold;transform:scaleX(1.132);color:#fffdf4;-webkit-text-stroke:0.415em #fffdf4">牛肉の</div><div class="t" style="left:538.83px;top:313.25px;font-size:12.6px;font-family:'Liberation Sans', sans-serif;font-weight:bold;transform:scaleX(1.132);color:#a6311f;-webkit-text-stroke:0.05em #a6311f">牛肉の</div><div class="t" style="left:584.6px;top:299.28px;font-size:30.82px;font-family:'Liberation Sans', sans-serif;font-weight:bold;transform:scaleX(1.137);color:#fffdf4;-webkit-text-stroke:0.179em #fffdf4">93</div><div class="t" style="left:584.6px;top:299.28px;font-size:30.82px;font-family:'Liberation Sans', sans-serif;font-weight:bold;transform:scaleX(1.137);color:#a6311f;-webkit-text-stroke:0.03em #a6311f">93</div><div class="t" style="left:624.56px;top:312.82px;font-size:14.86px;font-family:'Liberation Sans', sans-serif;font-weight:bold;transform:scaleX(0.969);color:#fffdf4;-webkit-text-stroke:0.339em #fffdf4">%OFF</div><div class="t" style="left:624.56px;top:312.82px;font-size:14.86px;font-family:'Liberation Sans', sans-serif;font-weight:bold;transform:scaleX(0.969);color:#a6311f;-webkit-text-stroke:0.03em #a6311f">%OFF</div><div class="t" style="left:633.5px;top:340.13px;font-size:11.39px;font-family:'Liberation Sans', sans-serif;font-weight:bold;transform:scaleX(1.177);color:#fffdf4;-webkit-text-stroke:0.454em #fffdf4">牛肉の</div><div class="t" style="left:633.5px;top:340.13px;font-size:11.39px;font-family:'Liberation Sans', sans-serif;font-weight:bold;transform:scaleX(1.177);color:#a6311f;-webkit-text-stroke:0.05em #a6311f">牛肉の</div><div class="t" style="left:622.72px;top:351.13px;font-size:22.26px;font-family:'Liberation Sans', sans-serif;font-weight:bold;transform:scaleX(0.859);color:#fffdf4;-webkit-text-stroke:0.237em #fffdf4">68</div><div class="t" style="left:622.72px;top:351.13px;font-size:22.26px;font-family:'Liberation Sans', sans-serif;font-weight:bold;transform:scaleX(0.859);color:#a6311f;-webkit-text-stroke:0.03em #a6311f">68</div><div class="t" style="left:645.45px;top:356.43px;font-size:15.48px;font-family:'Liberation Sans', sans-serif;font-weight:bold;transform:scaleX(0.960);color:#fffdf4;-webkit-text-stroke:0.327em #fffdf4">%OFF</div><div class="t" style="left:645.45px;top:356.43px;font-size:15.48px;font-family:'Liberation Sans', sans-serif;font-weight:bold;transform:scaleX(0.960);color:#a6311f;-webkit-text-stroke:0.03em #a6311f">%OFF</div><div class="t" style="left:218.52px;top:596.84px;font-size:11.83px;font-family:'Liberation Sans', sans-serif;font-weight:bold;transform:scaleX(1.197);color:#fffdf4;-webkit-text-stroke:0.439em #fffdf4">牛肉の</div><div class="t" style="left:218.52px;top:596.84px;font-size:11.83px;font-family:'Liberation Sans', sans-serif;font-weight:bold;transform:scaleX(1.197);color:#a6311f;-webkit-text-stroke:0.05em #a6311f">牛肉の</div><div class="t" style="left:265.4px;top:580.44px;font-size:32.04px;font-family:'Liberation Sans', sans-serif;font-weight:bold;transform:scaleX(1.051);color:#fffdf4;-webkit-text-stroke:0.174em #fffdf4">4</div><div class="t" style="left:265.4px;top:580.44px;font-size:32.04px;font-family:'Liberation Sans', sans-serif;font-weight:bold;transform:scaleX(1.051);color:#a6311f;-webkit-text-stroke:0.03em #a6311f">4</div><div class="t" style="left:295.6px;top:580.71px;font-size:32.4px;font-family:'Liberation Sans', sans-serif;font-weight:bold;transform:scaleX(1.247);color:#fffdf4;-webkit-text-stroke:0.172em #fffdf4">3</div><div class="t" style="left:295.6px;top:580.71px;font-size:32.4px;font-family:'Liberation Sans', sans-serif;font-weight:bold;transform:scaleX(1.247);color:#a6311f;-webkit-text-stroke:0.03em #a6311f">3</div><div class="t" style="left:321.47px;top:597.06px;font-size:11.5px;font-family:'Liberation Sans', sans-serif;font-weight:bold;transform:scaleX(1.200);color:#fffdf4;-webkit-text-stroke:0.450em #fffdf4">倍</div><div class="t" style="left:321.47px;top:597.06px;font-size:11.5px;font-family:'Liberation Sans', sans-serif;font-weight:bold;transform:scaleX(1.200);color:#a6311f;-webkit-text-stroke:0.05em #a6311f">倍</div><div class="t" style="left:168.61px;top:657.44px;font-size:13.89px;font-family:'Liberation Sans', sans-serif;font-weight:bold;transform:scaleX(0.983);color:#fffdf4;-webkit-text-stroke:0.328em #fffdf4">吸収の良い「ヘム鉄」が豊富</div><div class="t" style="left:168.61px;top:657.44px;font-size:13.89px;font-family:'Liberation Sans', sans-serif;font-weight:bold;transform:scaleX(0.983);color:#a6311f;-webkit-text-stroke:0.04em #a6311f">吸収の良い「ヘム鉄」が豊富</div><div class="t" style="left:547.62px;top:595.63px;font-size:11.73px;font-family:'Liberation Sans', sans-serif;font-weight:bold;transform:scaleX(1.187);color:#fffdf4;-webkit-text-stroke:0.442em #fffdf4">牛肉の</div><div class="t" style="left:547.62px;top:595.63px;font-size:11.73px;font-family:'Liberation Sans', sans-serif;font-weight:bold;transform:scaleX(1.187);color:#a6311f;-webkit-text-stroke:0.05em #a6311f">牛肉の</div><div class="t" style="left:595.03px;top:580.55px;font-size:31.1px;font-family:'Liberation Sans', sans-serif;font-weight:bold;transform:scaleX(1.105);color:#fffdf4;-webkit-text-stroke:0.178em #fffdf4">16</div><div class="t" style="left:595.03px;top:580.55px;font-size:31.1px;font-family:'Liberation Sans', sans-serif;font-weight:bold;transform:scaleX(1.105);color:#a6311f;-webkit-text-stroke:0.03em #a6311f">16</div><div class="t" style="left:639.84px;top:595.86px;font-size:11.4px;font-family:'Liberation Sans', sans-serif;font-weight:bold;transform:scaleX(1.056);color:#fffdf4;-webkit-text-stroke:0.453em #fffdf4">倍</div><div class="t" style="left:639.84px;top:595.86px;font-size:11.4px;font-family:'Liberation Sans', sans-serif;font-weight:bold;transform:scaleX(1.056);color:#a6311f;-webkit-text-stroke:0.05em #a6311f">倍</div><div class="t" style="left:481.69px;top:635.29px;font-size:14.33px;font-family:'Liberation Sans', sans-serif;font-weight:bold;transform:scaleX(1.029);color:#fffdf4;-webkit-text-stroke:0.371em #fffdf4">牛肉の</div><div class="t" style="left:481.69px;top:635.29px;font-size:14.33px;font-family:'Liberation Sans', sans-serif;font-weight:bold;transform:scaleX(1.029);color:#a6311f;-webkit-text-stroke:0.05em #a6311f">牛肉の</div><div class="t" style="left:529.03px;top:632.14px;font-size:20.41px;font-family:'Liberation Sans', sans-serif;font-weight:bold;transform:scaleX(0.904);color:#fffdf4;-webkit-text-stroke:0.255em #fffdf4">8</div><div class="t" style="left:529.03px;top:632.14px;font-size:20.41px;font-family:'Liberation Sans', sans-serif;font-weight:bold;transform:scaleX(0.904);color:#a6311f;-webkit-text-stroke:0.03em #a6311f">8</div><div class="t" style="left:546.91px;top:635.56px;font-size:13.93px;font-family:'Liberation Sans', sans-serif;font-weight:bold;transform:scaleX(0.931);color:#fffdf4;-webkit-text-stroke:0.380em #fffdf4">倍</div><div class="t" style="left:546.91px;top:635.56px;font-size:13.93px;font-family:'Liberation Sans', sans-serif;font-weight:bold;transform:scaleX(0.931);color:#a6311f;-webkit-text-stroke:0.05em #a6311f">倍</div>
<div style="position:absolute;left:285.2px;top:602.2px;width:7px;height:7px;border-radius:50%;background:#a6311f;box-shadow:0 0 0 2px #fffdf4"></div>
</body></html>
